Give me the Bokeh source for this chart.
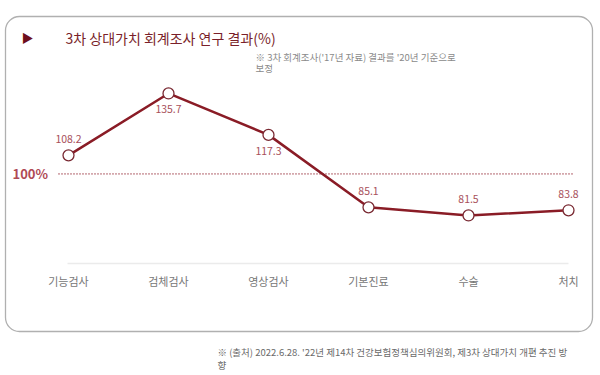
from bokeh.plotting import figure
from bokeh.models import Range1d, Label, BoxAnnotation, ColumnDataSource, FixedTicker, LinearAxis
from bokeh.core.properties import value
from bokeh.embed import file_html
from bokeh.resources import INLINE

# data
categories = ["기능검사", "검체검사", "영상검사", "기본진료", "수술", "처치"]
values = [108.2, 135.7, 117.3, 85.1, 81.5, 83.8]
value_labels = ["108.2", "135.7", "117.3", "85.1", "81.5", "83.8"]
reference = 100
title_text = "3차 상대가치 회계조사 연구 결과(%)"
note_text = "※ 3차 회계조사('17년 자료) 결과를 '20년 기준으로\n보정"
source_text = "※ (출처) 2022.6.28. '22년 제14차 건강보험정책심의위원회, 제3차 상대가치 개편 추진 방\n향"

# style
label_side = [-1, 1, 1, -1, -1, -1]  # -1 above, 1 below
FONT = "Noto Sans CJK KR"
LINE = "#8a1c26"
LABEL_RED = "#a8505a"
W, H = 600, 375

idx = list(range(len(categories)))
p = figure(width=W, height=H, output_backend="svg", toolbar_location=None,
           x_range=Range1d(-0.68, 5.32), y_range=Range1d(10.4, 177.0),
           min_border=0, x_axis_type=None, y_axis_type=None,
           outline_line_color=None, background_fill_color="white",
           border_fill_color="white")
p.xgrid.visible = False
p.ygrid.visible = False

# rounded panel
p.add_layout(BoxAnnotation(left=5, right=592, top=H - 16, bottom=H - 331,
                           left_units="screen", right_units="screen",
                           top_units="screen", bottom_units="screen",
                           fill_alpha=0, line_color="#b0b0b0", line_alpha=1,
                           line_width=1.3, border_radius=14, level="underlay"))

# x axis inside frame
ax = LinearAxis(fixed_location=60.2, ticker=FixedTicker(ticks=idx),
                major_label_overrides={i: c for i, c in zip(idx, categories)},
                bounds=(-0.01, 5.0))
ax.axis_line_color = "#ebebeb"
ax.axis_line_width = 1.5
ax.major_tick_line_color = None
ax.minor_tick_line_color = None
ax.major_label_text_font = FONT
ax.major_label_text_font_size = "11px"
ax.major_label_text_color = "#777777"
ax.major_label_standoff = 4
p.add_layout(ax, "below")

# reference line
p.segment(x0=[-0.1], x1=[5.04], y0=[reference], y1=[reference],
          line_color=LABEL_RED, line_width=1.8, line_dash="1 2")
p.add_layout(Label(x=12, y=reference, x_units="screen", text="100%",
                   text_font=FONT, text_font_size="13px", text_font_style="bold",
                   text_color="#b04a55", text_baseline="middle"))

# series
src = ColumnDataSource(dict(x=idx, y=values, t=value_labels,
                            off=[16 * s for s in label_side]))
p.line("x", "y", source=src, line_color=LINE, line_width=2.5)
p.scatter("x", "y", source=src, size=11, fill_color="white",
          line_color="#7a2a33", line_width=1.3)
p.text("x", "y", text="t", source=src, y_offset="off", text_align="center",
       text_baseline="middle", text_font=value(FONT), text_font_size="10.5px",
       text_color=LABEL_RED)

# title, triangle, notes
p.add_layout(Label(x=21, y=H - 37, x_units="screen", y_units="screen", text="▶",
                   text_font=FONT, text_font_size="12px", text_color="#6e0f1c",
                   text_baseline="middle"))
p.add_layout(Label(x=65, y=H - 37, x_units="screen", y_units="screen", text=title_text,
                   text_font=FONT, text_font_size="14px", text_color="#7a1f2a",
                   text_baseline="middle"))
p.add_layout(Label(x=255, y=H - 49, x_units="screen", y_units="screen", text=note_text,
                   text_font=FONT, text_font_size="9.5px", text_color="#8a8a8a",
                   text_baseline="top", text_line_height=0.85))
p.add_layout(Label(x=217, y=H - 344, x_units="screen", y_units="screen", text=source_text,
                   text_font=FONT, text_font_size="9.5px", text_color="#6a6a6a",
                   text_baseline="top", text_line_height=0.95))

open("out.html", "w").write(file_html(p, INLINE))
